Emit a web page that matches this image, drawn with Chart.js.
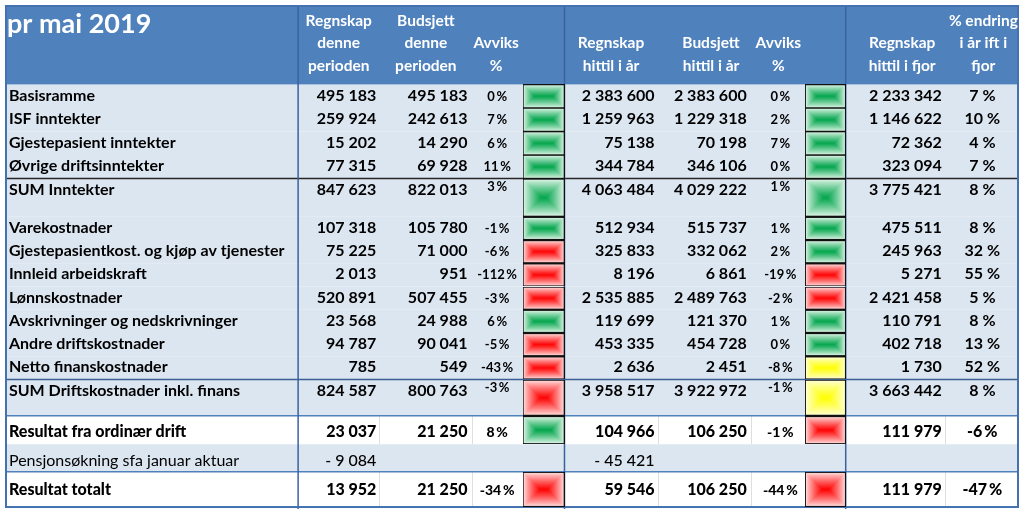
<!DOCTYPE html>
<html>
<head>
<meta charset="utf-8">
<title>pr mai 2019</title>
<script src="https://cdn.jsdelivr.net/npm/chart.js@4.4.1/dist/chart.umd.min.js"></script>
<style>
  html, body { margin: 0; padding: 0; background: #fff; }
  #wrap { width: 1024px; height: 514px; position: relative; }
</style>
</head>
<body>
<div id="wrap"><canvas id="tabell"></canvas></div>
<script>
// ---- data ----
var title = 'pr mai 2019';
var rowNames = [
    'Basisramme', 'ISF inntekter', 'Gjestepasient inntekter', 'Øvrige driftsinntekter',
    'SUM Inntekter', 'Varekostnader', 'Gjestepasientkost. og kjøp av tjenester',
    'Innleid arbeidskraft', 'Lønnskostnader', 'Avskrivninger og nedskrivninger',
    'Andre driftskostnader', 'Netto finanskostnader', 'SUM Driftskostnader inkl. finans',
    'Resultat fra ordinær drift', 'Pensjonsøkning sfa januar aktuar', 'Resultat totalt'
];
var regnskapPeriode = [495183, 259924, 15202, 77315, 847623, 107318, 75225, 2013, 520891, 23568, 94787, 785, 824587, 23037, -9084, 13952];
var budsjettPeriode = [495183, 242613, 14290, 69928, 822013, 105780, 71000, 951, 507455, 24988, 90041, 549, 800763, 21250, null, 21250];
var avvikPeriode = [0, 7, 6, 11, 3, -1, -6, -112, -3, 6, -5, -43, -3, 8, null, -34];
var statusPeriode = ['G', 'G', 'G', 'G', 'G', 'G', 'R', 'R', 'R', 'G', 'R', 'R', 'R', 'G', null, 'R'];
var regnskapHittil = [2383600, 1259963, 75138, 344784, 4063484, 512934, 325833, 8196, 2535885, 119699, 453335, 2636, 3958517, 104966, -45421, 59546];
var budsjettHittil = [2383600, 1229318, 70198, 346106, 4029222, 515737, 332062, 6861, 2489763, 121370, 454728, 2451, 3922972, 106250, null, 106250];
var avvikHittil = [0, 2, 7, 0, 1, 1, 2, -19, -2, 1, 0, -8, -1, -1, null, -44];
var statusHittil = ['G', 'G', 'G', 'G', 'G', 'G', 'G', 'R', 'R', 'G', 'G', 'Y', 'Y', 'R', null, 'R'];
var regnskapFjor = [2233342, 1146622, 72362, 323094, 3775421, 475511, 245963, 5271, 2421458, 110791, 402718, 1730, 3663442, 111979, null, 111979];
var endringFjor = [7, 10, 4, 7, 8, 8, 32, 55, 5, 8, 13, 52, 8, -6, null, -47];

var headPeriode = [['Regnskap', 'denne', 'perioden'], ['Budsjett', 'denne', 'perioden'], ['', 'Avviks', '%']];
var headHittil = [['', 'Regnskap', 'hittil i år'], ['', 'Budsjett', 'hittil i år'], ['', 'Avviks', '%']];
var headFjor = [['', 'Regnskap', 'hittil i fjor'], ['% endring', 'i år ift i', 'fjor']];

// ---- layout (table units == px) ----
var W = 1024, H = 514, HEAD_H = 81;
var rowKind = ['n', 'n', 'n', 'n', 'sum', 'n', 'n', 'n', 'n', 'n', 'n', 'n', 'sum', 'res', 'note', 'res'];
var rowH = [24, 24, 24, 24, 39, 23.7, 23.7, 23.7, 23.7, 23.7, 23.7, 23.8, 37, 29, 28, 36];
var textOff = [16.5, 16.5, 16.5, 16.5, 16.5, 16.5, 16.5, 16.5, 16.5, 16.5, 16.5, 16.5, 16.5, 22, 22, 24];
var rowTop = [];
(function () {
    var y = HEAD_H;
    for (var i = 0; i < rowH.length; i++) { rowTop.push(y); y += rowH[i]; }
})();
var lineAbove = { 4: '#262626', 12: '#3b5f92', 13: '#4f81bd', 15: '#4f81bd' };
var COL = {
    label: 4, rp: 375, bp: 467, ap: 497, box1: [523, 565],
    rh: 656, bh: 749, ah: 783, box2: [808, 849], rf: 946, ef: 987
};
var headX = [337, 425, 496, 612, 713, 781, 906, 988];
var vLines = [296, 565, 849];
var whiteDividers = [378, 472, 659, 753, 949];
var FONT = "Lato, 'Open Sans', sans-serif";

var boxColors = {
    G: { edge: [236, 249, 240], mid: [0, 165, 75] },
    R: { edge: [255, 234, 234], mid: [255, 0, 0] },
    Y: { edge: [255, 255, 226], mid: [255, 255, 0] }
};

function fmt(v) {
    if (v === null || v === undefined) return '';
    var s = Math.abs(v).toString().replace(/\B(?=(\d{3})+(?!\d))/g, ' ');
    return v < 0 ? '- ' + s : s;
}
function pct(v, sep) {
    if (v === null || v === undefined) return '';
    return v + sep + '%';
}

var boxCache = {};
function statusBox(s, w, h) {
    var key = s + w + 'x' + h;
    if (boxCache[key]) return boxCache[key];
    var cv = document.createElement('canvas');
    cv.width = w; cv.height = h;
    var g = cv.getContext('2d');
    var c = boxColors[s];
    var half = Math.min(w, h) / 2;
    for (var d = 0; d <= half; d += 0.5) {
        var t = Math.pow(d / half, 0.85);
        var col = c.edge.map(function (e, k) { return Math.round(e + (c.mid[k] - e) * t); });
        g.fillStyle = 'rgb(' + col.join(',') + ')';
        g.fillRect(d, d, w - 2 * d, h - 2 * d);
    }
    g.strokeStyle = '#111';
    g.lineWidth = 1;
    g.strokeRect(0.5, 0.5, w - 1, h - 1);
    boxCache[key] = cv;
    return cv;
}

var boxPoints = [];
rowNames.forEach(function (n, i) {
    var yc = rowTop[i] + rowH[i] / 2;
    if (statusPeriode[i]) boxPoints.push({ x: (COL.box1[0] + COL.box1[1]) / 2, y: yc, s: statusPeriode[i], r: i, x0: COL.box1[0], x1: COL.box1[1] });
    if (statusHittil[i]) boxPoints.push({ x: (COL.box2[0] + COL.box2[1]) / 2, y: yc, s: statusHittil[i], r: i, x0: COL.box2[0], x1: COL.box2[1] });
});

var tablePlugin = {
    id: 'tableCells',
    beforeDatasetsDraw: function (chart) {
        var ctx = chart.ctx, xs = chart.scales.x, ys = chart.scales.y;
        var X = function (v) { return xs.getPixelForValue(v); };
        var Y = function (v) { return ys.getPixelForValue(v); };
        ctx.save();
        // row backgrounds
        rowNames.forEach(function (n, i) {
            ctx.fillStyle = rowKind[i] === 'res' ? '#ffffff' : '#dce6f1';
            ctx.fillRect(X(0), Y(rowTop[i]), X(W) - X(0), Y(rowTop[i] + rowH[i]) - Y(rowTop[i]));
        });
        // header band
        ctx.fillStyle = '#4f81bd';
        ctx.fillRect(X(0), Y(0), X(W) - X(0), Y(HEAD_H) - Y(0));
        // light dividers in white rows
        ctx.strokeStyle = '#dedede';
        ctx.lineWidth = 1;
        rowNames.forEach(function (n, i) {
            if (rowKind[i] !== 'res') return;
            whiteDividers.forEach(function (x) {
                ctx.beginPath();
                ctx.moveTo(Math.round(X(x)) + 0.5, Y(rowTop[i]));
                ctx.lineTo(Math.round(X(x)) + 0.5, Y(rowTop[i] + rowH[i]));
                ctx.stroke();
            });
        });
        // horizontal rules
        Object.keys(lineAbove).forEach(function (k) {
            ctx.strokeStyle = lineAbove[k];
            ctx.lineWidth = 1.5;
            ctx.beginPath();
            ctx.moveTo(X(0), Y(rowTop[k]));
            ctx.lineTo(X(W), Y(rowTop[k]));
            ctx.stroke();
        });
        // vertical group rules
        ctx.strokeStyle = '#3a62a0';
        ctx.lineWidth = 1.5;
        vLines.forEach(function (x) {
            ctx.beginPath();
            ctx.moveTo(X(x), Y(0));
            ctx.lineTo(X(x), Y(H));
            ctx.stroke();
        });
        // outer frame
        ctx.strokeStyle = '#4472b0';
        ctx.lineWidth = 2;
        ctx.strokeRect(X(0) + 1, Y(0) + 1, X(W) - X(0) - 2, Y(H - 1) - Y(0) - 2);
        ctx.restore();
    },
    afterDatasetsDraw: function (chart) {
        var ctx = chart.ctx, xs = chart.scales.x, ys = chart.scales.y;
        var X = function (v) { return xs.getPixelForValue(v); };
        var Y = function (v) { return ys.getPixelForValue(v); };
        ctx.save();
        ctx.textBaseline = 'alphabetic';

        // header texts
        ctx.fillStyle = '#ffffff';
        ctx.textAlign = 'left';
        ctx.font = 'bold 27px ' + FONT;
        ctx.fillText(title, X(2), Y(29));
        ctx.font = 'bold 15.5px ' + FONT;
        ctx.textAlign = 'center';
        var heads = headPeriode.concat(headHittil, headFjor);
        var headBase = [21, 44, 67];
        heads.forEach(function (lines, j) {
            lines.forEach(function (t, k) {
                if (t) ctx.fillText(t, X(headX[j]), Y(headBase[k]));
            });
        });

        // body texts
        ctx.fillStyle = '#000000';
        rowNames.forEach(function (name, i) {
            var kind = rowKind[i];
            var base = Y(rowTop[i] + textOff[i]);
            var w = kind === 'res' ? '900' : (kind === 'note' ? '400' : '700');
            ctx.font = w + ' 16px ' + FONT;
            ctx.textAlign = 'left';
            ctx.fillText(name, X(COL.label), base);

            ctx.textAlign = 'right';
            ctx.font = (kind === 'note' ? '500' : w) + ' 16px ' + FONT;
            ctx.fillText(fmt(regnskapPeriode[i]), X(COL.rp), base);
            ctx.fillText(fmt(budsjettPeriode[i]), X(COL.bp), base);
            ctx.fillText(fmt(regnskapHittil[i]), X(COL.rh), base);
            ctx.fillText(fmt(budsjettHittil[i]), X(COL.bh), base);
            ctx.fillText(fmt(regnskapFjor[i]), X(COL.rf), base);

            // small deviation percentages
            ctx.textAlign = 'center';
            var pb = kind === 'sum' ? base - Y(4) + Y(0) : base;
            ctx.font = (kind === 'res' ? '900 14px ' : '700 13px ') + FONT;
            ctx.fillText(pct(avvikPeriode[i], '\u2009'), X(COL.ap), pb);
            ctx.fillText(pct(avvikHittil[i], '\u2009'), X(COL.ah), pb);

            ctx.font = (kind === 'res' ? '900 16px ' : '700 16px ') + FONT;
            ctx.fillText(pct(endringFjor[i], kind === 'res' ? '\u2009' : ' '), X(COL.ef), base);
        });
        ctx.restore();
    }
};

var config = {
    type: 'scatter',
    data: {
        datasets: [{
            label: 'Status',
            data: boxPoints,
            pointRadius: 1,
            clip: false,
            pointStyle: function (c) {
                var p = c.raw;
                if (!p || !p.s) return 'circle';
                var xs = c.chart.scales.x, ys = c.chart.scales.y;
                var w = Math.round(Math.abs(xs.getPixelForValue(p.x1) - xs.getPixelForValue(p.x0)));
                var h = Math.round(Math.abs(ys.getPixelForValue(rowTop[p.r] + rowH[p.r]) - ys.getPixelForValue(rowTop[p.r])));
                return statusBox(p.s, w, h);
            }
        }]
    },
    options: {
        responsive: true,
        maintainAspectRatio: false,
        animation: false,
        events: [],
        layout: { padding: 0 },
        plugins: { legend: { display: false }, tooltip: { enabled: false } },
        scales: {
            x: { type: 'linear', min: 0, max: W, display: false },
            y: { type: 'linear', min: 0, max: H, reverse: true, display: false }
        }
    },
    plugins: [tablePlugin]
};

window.onload = function () {
    var ctx = document.getElementById('tabell').getContext('2d');
    window.tabell = new Chart(ctx, config);
};
</script>
</body>
</html>
